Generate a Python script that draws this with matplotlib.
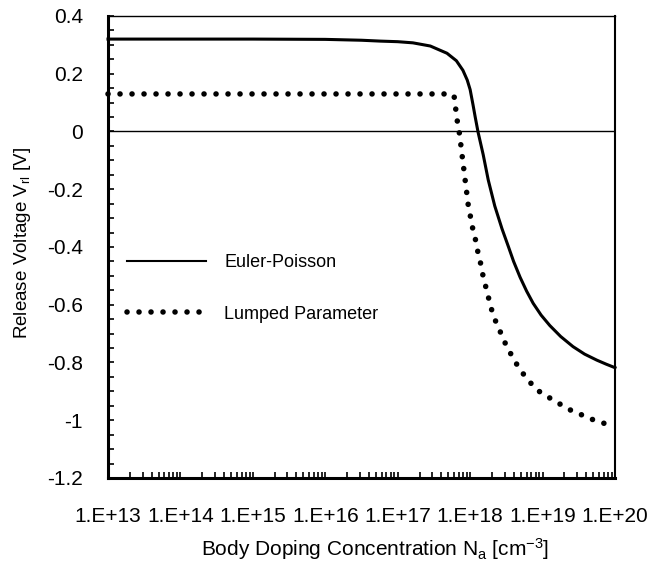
"""
Release voltage vs. body doping: Euler-Poisson vs. lumped parameter model.
"""

import numpy as np
import matplotlib
matplotlib.use("Agg")
import matplotlib.pyplot as plt
from matplotlib.lines import Line2D
from matplotlib.ticker import FixedLocator, LogLocator, MultipleLocator, FuncFormatter, NullFormatter

plt.rcParams['font.family'] = ['Liberation Sans', 'DejaVu Sans']
plt.rcParams['mathtext.default'] = 'regular'

# log10 of Na [cm^-3] and release voltage [V]
ep_log_na = [13.0, 14.0, 15.0, 16.0, 16.5, 16.76, 17.0, 17.21, 17.45, 17.68, 17.81,
             17.90, 17.96, 18.00, 18.04, 18.07, 18.11, 18.18, 18.25, 18.34, 18.44,
             18.53, 18.60, 18.69, 18.78, 18.87, 18.98, 19.10, 19.25, 19.42, 19.58,
             19.75, 19.88, 20.0]
ep_volt = [0.320, 0.320, 0.320, 0.319, 0.316, 0.313, 0.311, 0.307, 0.296, 0.271, 0.245,
           0.212, 0.178, 0.145, 0.092, 0.050, -0.003, -0.080, -0.168, -0.258, -0.337,
           -0.400, -0.450, -0.505, -0.553, -0.595, -0.636, -0.672, -0.710, -0.745, -0.771,
           -0.792, -0.806, -0.818]

lp_log_na = [13.0, 15.0, 17.0, 17.75, 17.78, 17.80, 17.82, 17.85, 17.87, 17.89, 17.91,
             17.93, 17.95, 17.97, 18.00, 18.03, 18.07, 18.10, 18.14, 18.17, 18.21,
             18.25, 18.29, 18.34, 18.41, 18.47, 18.55, 18.63, 18.72, 18.82, 18.94,
             19.08, 19.22, 19.36, 19.51, 19.66, 19.82, 19.97, 20.0]
lp_volt = [0.130, 0.130, 0.130, 0.130, 0.120, 0.080, 0.040, -0.003, -0.043, -0.085, -0.125,
           -0.166, -0.206, -0.249, -0.289, -0.330, -0.370, -0.410, -0.451, -0.491, -0.532,
           -0.572, -0.612, -0.650, -0.690, -0.726, -0.765, -0.801, -0.835, -0.867, -0.898,
           -0.920, -0.941, -0.962, -0.978, -0.995, -1.008, -1.022, -1.025]

decades = [13, 14, 15, 16, 17, 18, 19, 20]
labels = ['Euler-Poisson', 'Lumped Parameter']

ep_na = 10.0 ** np.array(ep_log_na)
lp_na = 10.0 ** np.array(lp_log_na)

dot_style = (0, (0.01, 2.15))

fig = plt.figure(figsize=(6.53, 5.71), dpi=100)
ax = fig.add_axes([0.1654, 0.1629, 0.7764, 0.8091])

ax.axhline(0, color='black', lw=1.0, zorder=1)
ax.plot(ep_na, ep_volt, color='black', lw=2.2, zorder=3, clip_on=False,
        solid_joinstyle='round')
ax.plot(lp_na, lp_volt, color='black', lw=4.0, ls=dot_style,
        dash_capstyle='round', zorder=3, clip_on=False)

ax.set_xscale('log')
ax.set_xlim(1e13, 1e20)
ax.set_ylim(-1.2, 0.4)

ax.xaxis.set_major_locator(FixedLocator([10.0 ** d for d in decades]))
ax.xaxis.set_major_formatter(FuncFormatter(lambda v, p: f"1.E+{int(round(np.log10(v)))}"))
ax.xaxis.set_minor_locator(LogLocator(base=10, subs=np.arange(2, 10)))
ax.xaxis.set_minor_formatter(NullFormatter())
ax.yaxis.set_major_locator(MultipleLocator(0.2))
ax.yaxis.set_minor_locator(MultipleLocator(0.05))
ax.yaxis.set_major_formatter(FuncFormatter(lambda v, p: f"{v:g}" if abs(v) > 1e-9 else "0"))

ax.tick_params(which='both', direction='in', length=4, width=1.2, top=False, right=False,
               labelsize=15)
ax.tick_params(axis='x', which='both', pad=21)
ax.tick_params(axis='y', which='both', pad=18)

ax.spines['left'].set_linewidth(2.2)
ax.spines['bottom'].set_linewidth(2.2)
ax.spines['right'].set_linewidth(1.5)
ax.spines['top'].set_linewidth(1.0)

ax.set_xlabel('Body Doping Concentration N$_{a}$ [cm$^{-3}$]', fontsize=15)
ax.set_ylabel('Release Voltage V$_{rl}$ [V]', fontsize=13.5)
ax.xaxis.set_label_coords(0.527, -0.1255)
ax.yaxis.set_label_coords(-0.148, 0.509)

handles = [Line2D([], [], color='black', lw=1.5),
           Line2D([], [], color='black', lw=4.0, ls=dot_style, dash_capstyle='round')]
ax.legend(handles, labels, loc='upper left', bbox_to_anchor=(0.037, 0.484),
          frameon=False, fontsize=13, handlelength=4.4, handletextpad=1.0,
          labelspacing=1.9, borderpad=0, borderaxespad=0)

fig.savefig('out.png', dpi=100)
